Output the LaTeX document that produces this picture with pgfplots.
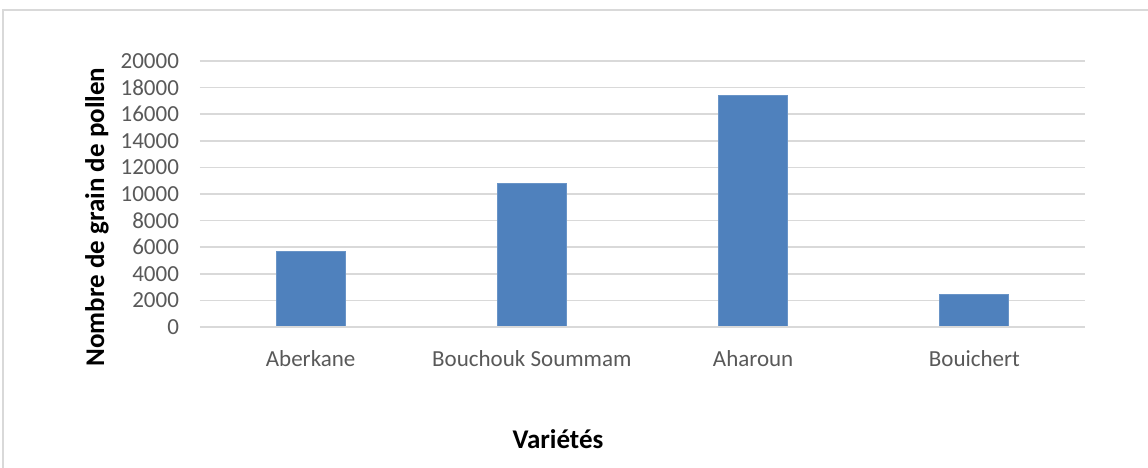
\documentclass[border=0pt]{standalone}
\usepackage{fontspec}
\setmainfont{Carlito}
\usepackage{pgfplots}
\pgfplotsset{compat=1.18}
\definecolor{barblue}{HTML}{4F81BD}
\definecolor{gridgray}{HTML}{D9D9D9}
\definecolor{ticktext}{HTML}{595959}
\begin{document}
\begin{tikzpicture}[x=0.5pt,y=0.5pt]
\useasboundingbox (-200,-140) rectangle (948,327);
\draw[gridgray, line width=1pt] (-197,-150) -- (-197,317) -- (960,317);
\begin{axis}[
  at={(0,0)}, anchor=south west,
  scale only axis,
  width=442.5pt, height=133pt,
  ymin=0, ymax=20000,
  xmin=-0.5, xmax=3.5,
  ytick={0,2000,...,20000},
  xtick={0,1,2,3},
  xticklabels={Aberkane,Bouchouk Soummam,Aharoun,Bouichert},
  axis line style={draw=none},
  axis x line*=bottom,
  axis y line*=left,
  major tick length=0pt,
  ymajorgrids,
  grid style={gridgray, line width=0.8pt},
  tick label style={font=\fontsize{11.5}{13}\selectfont, text=ticktext},
  /pgf/number format/assume math mode=true,
  yticklabel style={/pgf/number format/1000 sep={}, xshift=-7pt},
  xticklabel style={yshift=-8pt},
  scaled y ticks=false,
  ylabel={\textbf{Nombre de grain de pollen}},
  xlabel={\textbf{Variétés}},
  label style={font=\fontsize{13.5}{15}\selectfont},
  ylabel style={at={(axis description cs:-0.1164,0.4135)}, anchor=center},
  xlabel style={at={(axis description cs:0.4045,-0.421)}, anchor=center},
  clip=false,
]
\addplot[ybar, bar width=34.5pt, fill=barblue, draw=barblue!85!white, line width=0.4pt]
  coordinates {(0,5680) (1,10760) (2,17440) (3,2420)};
\draw[gridgray, line width=0.8pt] (axis cs:-0.5,0) -- (axis cs:3.5,0);
\end{axis}
\end{tikzpicture}
\end{document}
